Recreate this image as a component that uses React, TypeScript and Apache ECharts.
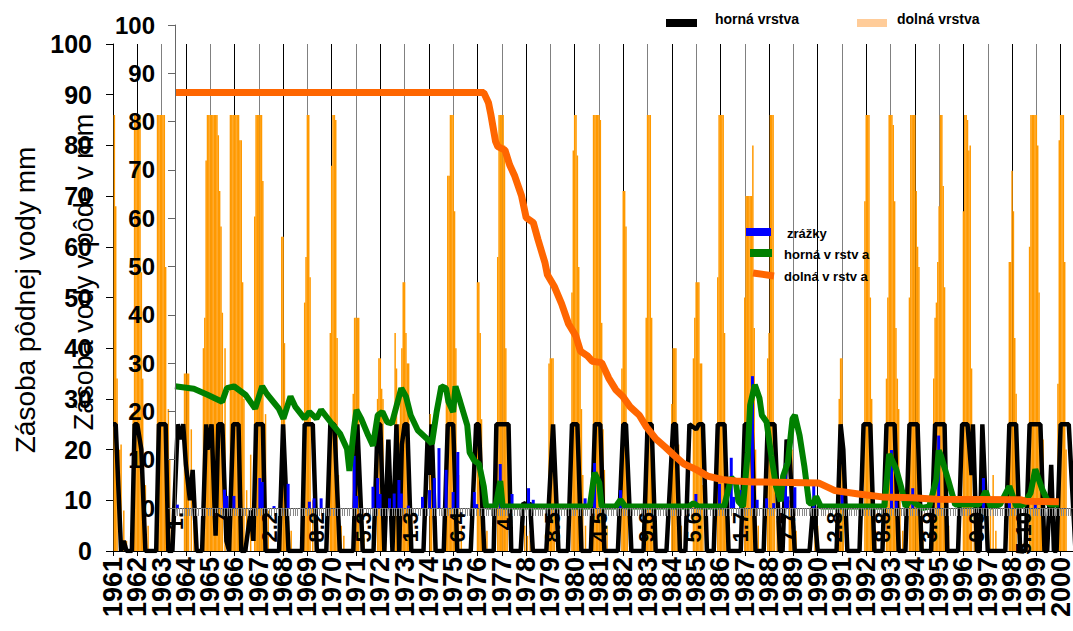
import React, { useEffect, useRef } from 'react';
import * as echarts from 'echarts';

const FONT = '"Liberation Sans", Arial, Helvetica, sans-serif';

// ---- back chart (years on x, left axis "Zásoba pôdnej vody mm") ----
const years = [
  '1961', '1962', '1963', '1964', '1965', '1966', '1967', '1968', '1969', '1970',
  '1971', '1972', '1973', '1974', '1975', '1976', '1977', '1978', '1979', '1980',
  '1981', '1982', '1983', '1984', '1985', '1986', '1987', '1988', '1989', '1990',
  '1991', '1992', '1993', '1994', '1995', '1996', '1997', '1998', '1999', '2000',
];
const POINTS_PER_YEAR = 18;
const BACK_COUNT = 720;

// dolná vrstva (bars): [first point index, heights of consecutive bars]
const dolnaBarClusters: [number, number[]][] = [
  [1, [86, 68, 34, 0, 20, 21, 0, 8, 0, 2]],
  [15, [27, 86, 86, 86, 86, 86, 55, 34, 0, 13, 0, 5]],
  [33, [86, 86, 86, 86, 86, 86, 56, 0, 28, 18, 0, 4]],
  [53, [35, 35, 35, 35, 0, 24, 0, 12, 0, 2]],
  [67, [40, 46, 77, 86, 86, 86, 86, 86, 86, 86, 86, 82, 71, 64, 47, 0, 40]],
  [87, [86, 86, 86, 86, 86, 86, 86, 81, 81, 53, 30, 0, 12]],
  [102, [19, 0, 0, 66, 86, 86, 86, 86, 86, 73, 0, 27, 0, 8]],
  [125, [62, 62, 41, 16, 0, 6, 0, 4]],
  [142, [49, 58, 86, 86, 54, 0, 10, 0, 3]],
  [161, [43, 76, 86, 86, 85, 42, 15, 0, 5, 0, 3]],
  [178, [31, 46, 46, 46, 46, 0, 10, 0, 4]],
  [196, [30, 38, 38, 32, 30, 0, 10]],
  [209, [43, 36, 20, 25, 30, 40, 53, 53, 43, 37, 37, 0, 8]],
  [235, [27, 20, 0, 10]],
  [247, [30, 74, 74, 86, 86, 86, 67, 40, 0, 15, 0, 5]],
  [270, [53, 53, 43, 26, 0, 10, 0, 4]],
  [285, [58, 86, 86, 86, 86, 80, 40, 25, 0, 8]],
  [305, [5, 0, 3, 0, 4]],
  [323, [37, 38, 38, 38, 20, 0, 6]],
  [340, [51, 79, 86, 86, 78, 56, 40, 28, 15, 0, 5]],
  [356, [86, 86, 86, 86, 86, 85, 45, 24, 16, 0, 5]],
  [377, [36, 71, 71, 64, 20, 0, 5]],
  [395, [46, 86, 86, 86, 46, 13, 0, 4]],
  [414, [29, 40, 40, 40, 21, 21, 0, 5]],
  [430, [38, 46, 53, 53, 53, 37, 37, 13, 0, 4]],
  [448, [54, 86, 86, 86, 86, 43, 20, 0, 6]],
  [468, [50, 70, 70, 70, 70, 70, 80, 44, 20, 0, 5]],
  [485, [38, 43, 86, 86, 86, 20, 0, 6]],
  [501, [10, 15, 20, 10, 0, 4]],
  [520, [5, 8, 5]],
  [537, [18, 30, 38, 38, 20, 0, 5]],
  [557, [69, 86, 86, 86, 50, 30, 15, 0, 4]],
  [573, [34, 50, 86, 86, 86, 84, 69, 44, 34, 28, 15, 0, 4]],
  [590, [50, 86, 86, 86, 86, 71, 60, 56, 15, 0, 4]],
  [608, [34, 46, 49, 57, 68, 86, 86, 72, 52, 20, 0, 5]],
  [630, [67, 86, 86, 85, 79, 80, 36, 0, 8]],
  [650, [10, 0, 15, 0, 4]],
  [664, [57, 57, 75, 67, 42, 31, 0, 8]],
  [679, [60, 86, 86, 86, 86, 86, 80, 51, 22, 22, 22, 0, 5]],
  [700, [33, 81, 86, 86, 86, 57, 20]],
];

// horná vrstva (black line): [point index, value]
const hornaBack: [number, number][] = [
  [0, 25], [2, 25], [6, 0], [8, 2], [10, 0], [14, 0], [16, 25], [18, 25], [21, 20], [24, 0],
  [32, 0], [34, 25], [39, 25], [41, 0], [44, 0], [48, 25], [50, 22], [52, 25], [54, 17], [57, 10],
  [59, 16], [62, 0], [66, 0], [69, 25], [70, 20], [73, 25], [76, 3], [78, 25], [81, 25], [84, 2],
  [86, 0], [89, 25], [93, 25], [95, 0], [98, 0], [102, 8], [104, 2], [106, 25], [111, 25], [113, 0],
  [123, 0], [126, 25], [130, 0], [140, 0], [142, 25], [148, 25], [151, 0], [158, 0], [161, 25], [164, 25],
  [168, 0], [178, 0], [181, 25], [185, 0], [193, 0], [196, 25], [198, 25], [201, 0], [204, 22], [207, 0],
  [210, 25], [212, 0], [214, 21], [216, 25], [218, 25], [221, 0], [230, 0], [233, 22], [234, 15], [236, 25],
  [239, 0], [245, 0], [248, 25], [252, 25], [255, 0], [265, 0], [269, 25], [271, 25], [275, 0], [282, 0],
  [284, 25], [293, 25], [295, 0], [302, 0], [304, 9.5], [307, 9], [309, 9.5], [311, 0], [321, 0], [326, 25],
  [330, 0], [337, 0], [340, 25], [344, 25], [347, 0], [354, 0], [357, 25], [361, 25], [364, 0], [374, 0],
  [378, 25], [380, 25], [384, 0], [393, 0], [396, 25], [399, 25], [402, 0], [410, 0], [415, 25], [417, 25],
  [420, 0], [424, 0], [427, 25], [432, 24], [434, 25], [437, 25], [440, 0], [445, 0], [448, 25], [453, 25],
  [456, 0], [465, 0], [468, 25], [473, 25], [476, 0], [482, 0], [485, 25], [490, 25], [494, 0], [496, 0],
  [499, 22], [501, 20], [505, 0], [516, 0], [519, 10], [522, 0], [536, 0], [539, 25], [541, 20], [544, 0],
  [553, 0], [556, 25], [561, 25], [564, 0], [570, 0], [573, 25], [579, 25], [582, 0], [587, 0], [590, 25],
  [596, 25], [599, 0], [606, 0], [609, 25], [616, 25], [618, 0], [626, 0], [629, 25], [633, 25], [636, 15],
  [637, 25], [640, 0], [642, 0], [644, 25], [648, 0], [661, 0], [664, 25], [669, 25], [672, 0], [676, 0],
  [679, 25], [687, 25], [690, 0], [692, 0], [695, 17], [697, 0], [699, 0], [702, 25], [708, 25], [713, 0],
];

// ---- front chart (right-hand axis "Zásoba vody v pôde v mm") ----
const FRONT_COUNT = 382;
const FRONT_LABEL_EVERY = 20;
const frontTickLabels = [
  '1.', '7', '2.2', '8.2', '5.3', '1.3', '6.4', '4.', '8.5', '4.5',
  '9.6', '5.6', '1.7', '7.7', '2.8', '8.8', '3.9', '9.9', '5.10',
];

const zrazky: [number, number][] = [
  [1, 0.7], [21, 3.8], [22, 2.5], [25, 2.5], [36, 6.2], [37, 5.4], [42, 0.4], [48, 5], [57, 1.3], [59, 2],
  [62, 2], [76, 10.8], [77, 2.5], [84, 4.4], [86, 6.2], [87, 2.9], [91, 2], [93, 3], [95, 5.8], [96, 3],
  [99, 0.5], [105, 2.3], [108, 3.7], [110, 6.2], [112, 12.4], [115, 7.9], [118, 3.3], [120, 11.6], [127, 3.3], [128, 0.8],
  [138, 9.1], [143, 2.9], [150, 4.1], [152, 1.7], [174, 2], [178, 9.3], [187, 0.8], [189, 3.7], [221, 2.9], [231, 5],
  [236, 10.4], [237, 2.3], [240, 3.7], [245, 27.3], [247, 1.7], [251, 2], [254, 1], [259, 9.3], [260, 2.4], [263, 4.3],
  [271, 4.6], [283, 2.7], [304, 12], [306, 1.4], [313, 4.1], [324, 15], [343, 6.2], [354, 1.2], [365, 1.5],
];

const hornaFront: [number, number][] = [
  [0, 25.2], [8, 24.7], [14, 23.4], [20, 22], [22, 24.8], [25, 25.2], [30, 23.4], [34, 20.6], [37, 25.2], [39, 23.6],
  [44, 20.6], [46, 18.5], [49, 23.1], [51, 21], [55, 18.5], [57, 19.9], [60, 18.5], [62, 20.3], [66, 17.8], [70, 15.4],
  [73, 12.2], [74, 7.7], [76, 16.8], [77, 20.3], [79, 18.5], [82, 15], [84, 12.9], [86, 19.2], [88, 19.9], [90, 17.8],
  [92, 17.5], [96, 24.8], [98, 23.1], [100, 19.2], [103, 16.1], [107, 14.3], [109, 13.3], [111, 19.9], [113, 25.2], [115, 24.8],
  [116, 22], [118, 19.9], [119, 25.2], [121, 22], [124, 17.1], [125, 11.5], [127, 9.8], [129, 9.1], [131, 4.5], [132, 0.3],
  [136, 0.3], [138, 5.6], [139, 0.3], [176, 0.3], [178, 7.3], [180, 5.2], [181, 0.3], [187, 0.3], [189, 1.7], [191, 0.3],
  [218, 0.3], [220, 1], [222, 0.3], [233, 0.3], [236, 6.3], [238, 5.2], [239, 1.4], [241, 0.3], [243, 11.5], [244, 21.3],
  [246, 25.5], [248, 22.7], [249, 19.2], [251, 17.8], [253, 10.8], [255, 4.5], [257, 1.4], [258, 6.6], [260, 9.4], [262, 18.5],
  [263, 19.2], [265, 15], [267, 8.7], [269, 1], [271, 1], [272, 2.4], [274, 0.3], [301, 0.3], [303, 11.2], [306, 8],
  [308, 4.5], [310, 0.3], [312, 1.7], [314, 1], [317, 0], [320, 0.3], [323, 5.9], [324, 11.9], [325, 10.8], [328, 5.9],
  [331, 0.7], [341, 0.7], [344, 3.5], [346, 0.3], [350, 0.7], [354, 4.5], [357, 0.3], [360, 0.7], [363, 3.1], [365, 8],
  [368, 3.8], [371, 0.7], [375, 0.7],
];

const dolnaFront: [number, number][] = [
  [0, 86], [131, 86], [133, 83.9], [134, 81.5], [135, 78.7], [136, 75.9], [137, 74.8], [140, 74.1], [142, 71], [144, 68.9],
  [147, 64.7], [149, 60.1], [152, 59.1], [154, 55.6], [157, 50.7], [158, 48.3], [161, 45.8], [164, 42.3], [167, 38.1], [170, 35.7],
  [172, 32.5], [175, 31.5], [177, 30.4], [181, 30.1], [184, 26.9], [187, 24.5], [190, 23.1], [193, 21], [197, 19.2], [200, 16.8],
  [204, 14.3], [208, 12.6], [212, 10.8], [216, 9.1], [221, 8], [226, 6.6], [232, 5.9], [238, 5.6], [245, 5.4], [273, 5.2],
  [280, 3.6], [290, 2.9], [300, 2.3], [313, 2.1], [323, 1.8], [359, 1.7], [361, 1.4], [375, 1.3],
];

export default function App() {
  const ref = useRef<HTMLDivElement>(null);

  useEffect(() => {
    if (!ref.current) return;
    const chart = echarts.init(ref.current, null, { renderer: 'svg' });

    const backCats = Array.from({ length: BACK_COUNT }, (_, i) =>
      i % POINTS_PER_YEAR === 0 ? years[i / POINTS_PER_YEAR] : ''
    );
    const frontCats = Array.from({ length: FRONT_COUNT }, (_, i) =>
      i % FRONT_LABEL_EVERY === 0 ? frontTickLabels[i / FRONT_LABEL_EVERY] || '' : ''
    );
    const dolnaBars: [number, number][] = [];
    dolnaBarClusters.forEach(([start, hs]) => {
      hs.forEach((h, k) => {
        if (h > 0) dolnaBars.push([start + k, h]);
      });
    });
    const isYear = (i: number) => i % POINTS_PER_YEAR === 0;

    const boldLabel = { fontFamily: FONT, fontWeight: 'bold' as const, color: '#000' };

    const option: any = {
      animation: false,
      backgroundColor: '#fff',
      grid: [
        { left: 113, top: 44, width: 970.6, height: 507, containLabel: false, outerBoundsMode: 'none' },
        { left: 175, top: 25, width: 898, height: 483, containLabel: false, outerBoundsMode: 'none' },
      ],
      xAxis: [
        {
          gridIndex: 0,
          type: 'category',
          data: backCats,
          boundaryGap: false,
          axisLine: { show: true, lineStyle: { color: '#000', width: 1 } },
          axisTick: { show: true, interval: isYear, length: 5, lineStyle: { color: '#000' } },
          axisLabel: {
            ...boldLabel, interval: 0, rotate: 90, margin: 6, fontSize: 27, lineHeight: 18,
            hideOverlap: false,
          },
          splitLine: { show: true, interval: isYear, lineStyle: { color: ['#808080', '#000'], width: 1 } },
        },
        {
          gridIndex: 1,
          type: 'category',
          data: frontCats,
          boundaryGap: false,
          z: 6,
          axisLine: { show: true, lineStyle: { color: '#555', width: 1 } },
          axisTick: { show: true, interval: 0, length: 8, lineStyle: { color: '#8a8a8a' } },
          axisLabel: {
            ...boldLabel, interval: 0, rotate: 90, margin: 4, fontSize: 22, lineHeight: 16,
            hideOverlap: false,
          },
          splitLine: { show: false },
        },
      ],
      yAxis: [
        {
          gridIndex: 0,
          type: 'value',
          min: 0,
          max: 100,
          interval: 10,
          axisLine: { show: true, lineStyle: { color: '#000' } },
          axisTick: { show: true, length: 7, lineStyle: { color: '#000' } },
          axisLabel: { ...boldLabel, fontSize: 25, margin: 21 },
          splitLine: { show: false },
        },
        {
          gridIndex: 1,
          type: 'value',
          min: 0,
          max: 100,
          interval: 10,
          z: 6,
          axisLine: { show: true, lineStyle: { color: '#666' } },
          axisTick: { show: true, length: 7, lineStyle: { color: '#666' } },
          axisLabel: { ...boldLabel, fontSize: 24, margin: 20 },
          splitLine: { show: false },
        },
      ],
      series: [
        {
          name: 'dolná vrstva',
          type: 'bar',
          xAxisIndex: 0,
          yAxisIndex: 0,
          barWidth: 1.5,
          itemStyle: { color: '#FF9900' },
          data: dolnaBars,
          z: 1,
        },
        {
          name: 'horná vrstva',
          type: 'line',
          xAxisIndex: 0,
          yAxisIndex: 0,
          symbol: 'none',
          lineStyle: { color: '#000', width: 4.5 },
          itemStyle: { color: '#000' },
          data: hornaBack,
          z: 2,
        },
        {
          name: 'zrážky',
          type: 'bar',
          xAxisIndex: 1,
          yAxisIndex: 1,
          barWidth: 3,
          itemStyle: { color: '#0000FF' },
          data: zrazky,
          z: 3,
        },
        {
          name: 'horná v rstv a',
          type: 'line',
          xAxisIndex: 1,
          yAxisIndex: 1,
          symbol: 'none',
          lineStyle: { color: '#008000', width: 6 },
          itemStyle: { color: '#008000' },
          data: hornaFront,
          z: 4,
        },
        {
          name: 'dolná v rstv a',
          type: 'line',
          xAxisIndex: 1,
          yAxisIndex: 1,
          symbol: 'none',
          lineStyle: { color: '#FF6600', width: 7 },
          itemStyle: { color: '#FF6600' },
          data: dolnaFront,
          z: 4,
        },
      ],
      graphic: [
        {
          type: 'text', x: 25, y: 300, rotation: Math.PI / 2, z: 10,
          style: { text: 'Zásoba pôdnej vody mm', font: `normal 28px ${FONT}`, fill: '#000', align: 'center', verticalAlign: 'middle', textAlign: 'center', textVerticalAlign: 'middle' },
        },
        {
          type: 'text', x: 84, y: 272, rotation: Math.PI / 2, z: 10,
          style: { text: 'Zásoba vody v pôde v mm', font: `normal 27px ${FONT}`, fill: '#000', align: 'center', verticalAlign: 'middle', textAlign: 'center', textVerticalAlign: 'middle' },
        },
        // top legend
        { type: 'rect', z: 10, shape: { x: 666, y: 19, width: 31, height: 8 }, style: { fill: '#000' } },
        { type: 'text', z: 10, x: 715, y: 19, style: { text: 'horná vrstva', font: `bold 14px ${FONT}`, fill: '#000', verticalAlign: 'middle', textVerticalAlign: 'middle' } },
        { type: 'rect', z: 10, shape: { x: 857, y: 19, width: 30, height: 8 }, style: { fill: '#FFCC99' } },
        { type: 'text', z: 10, x: 897, y: 19, style: { text: 'dolná vrstva', font: `bold 14px ${FONT}`, fill: '#000', verticalAlign: 'middle', textVerticalAlign: 'middle' } },
        // front legend
        { type: 'rect', z: 10, shape: { x: 746, y: 228, width: 25, height: 8 }, style: { fill: '#0000FF' } },
        { type: 'text', z: 10, x: 787, y: 233, style: { text: 'zrážky', font: `bold 13px ${FONT}`, fill: '#000', verticalAlign: 'middle', textVerticalAlign: 'middle' } },
        { type: 'rect', z: 10, shape: { x: 750, y: 249, width: 22, height: 8 }, style: { fill: '#008000' } },
        { type: 'text', z: 10, x: 784, y: 254, style: { text: 'horná v rstv a', font: `bold 13px ${FONT}`, fill: '#000', verticalAlign: 'middle', textVerticalAlign: 'middle' } },
        { type: 'line', z: 10, shape: { x1: 753, y1: 273, x2: 774, y2: 276 }, style: { stroke: '#FF6600', lineWidth: 7 } },
        { type: 'text', z: 10, x: 784, y: 276, style: { text: 'dolná v rstv a', font: `bold 13px ${FONT}`, fill: '#000', verticalAlign: 'middle', textVerticalAlign: 'middle' } },
      ],
    };

    chart.setOption(option);
    return () => chart.dispose();
  }, []);

  return (
    <div
      ref={ref}
      style={{ position: 'fixed', left: 0, top: 0, width: 1073, height: 631, background: '#fff' }}
    />
  );
}
